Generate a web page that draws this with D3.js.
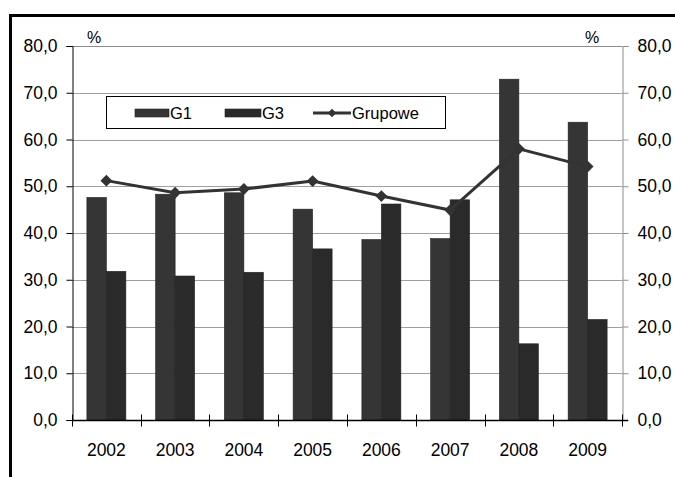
<!DOCTYPE html>
<html>
<head>
<meta charset="utf-8">
<script src="https://cdn.jsdelivr.net/npm/d3@7/dist/d3.min.js"></script>
<style>
  html, body { margin: 0; padding: 0; background: #fff; }
  svg { display: block; font-family: "Liberation Sans", Arial, sans-serif; }
</style>
</head>
<body>
<svg id="chart" width="675" height="477"></svg>
<script>
// Years on the category axis
const years = ["2002", "2003", "2004", "2005", "2006", "2007", "2008", "2009"];
// Bar series (%)
const g1 = [47.6, 48.3, 48.6, 45.1, 38.6, 38.8, 72.9, 63.7];
const g3 = [31.8, 30.8, 31.6, 36.6, 46.2, 47.1, 16.3, 21.5];
// Line series (%)
const grupowe = [51.2, 48.6, 49.4, 51.1, 47.9, 44.9, 58.0, 54.2];
// Value axis ticks
const yTicks = [0, 10, 20, 30, 40, 50, 60, 70, 80];

const seriesNames = ["G1", "G3"];
const barColors = { G1: "#353535", G3: "#2a2a2a" };
const lineColor = "#333333";
const axisFont = 17.5, legendFont = 16.5;

const svg = d3.select("#chart");
const plotLeft = 72, plotRight = 622, plotTop = 46, plotBottom = 420;

const x = d3.scaleBand().domain(years).range([plotLeft, plotRight])
  .paddingInner(0.433).paddingOuter(0.2165);
const xs = d3.scaleBand().domain(seriesNames).range([0, x.bandwidth()]);
const y = d3.scaleLinear().domain([0, 80]).range([plotBottom, plotTop]);
const fmt = v => d3.format(".1f")(v).replace(".", ",");

// outer frame
svg.append("rect").attr("x", 9).attr("y", 14).attr("width", 666).attr("height", 3).attr("fill", "#000");
svg.append("rect").attr("x", 9).attr("y", 14).attr("width", 3).attr("height", 463).attr("fill", "#000");

// gridlines
svg.append("g").selectAll("line").data(yTicks.filter(d => d > 0)).join("line")
  .attr("x1", plotLeft).attr("x2", plotRight)
  .attr("y1", d => Math.round(y(d)) + 0.5).attr("y2", d => Math.round(y(d)) + 0.5)
  .attr("stroke", d => d === 80 ? "#8c8c8c" : "#a0a0a0").attr("stroke-width", 1);

// bars
const groups = svg.append("g").selectAll("g").data(years).join("g")
  .attr("transform", d => `translate(${x(d)},0)`);
groups.selectAll("rect").data((d, i) => [
  { s: "G1", v: g1[i] }, { s: "G3", v: g3[i] }
]).join("rect")
  .attr("x", d => xs(d.s)).attr("width", xs.bandwidth())
  .attr("y", d => y(d.v)).attr("height", d => plotBottom - y(d.v))
  .attr("fill", d => barColors[d.s])
  .attr("stroke", "#222").attr("stroke-width", 0.6);

// left axis
const yAxisL = d3.axisLeft(y).tickValues(yTicks).tickFormat(fmt).tickSize(6).tickPadding(9);
const gL = svg.append("g").attr("transform", `translate(${plotLeft + 0.5},0)`).call(yAxisL);
gL.select(".domain").attr("stroke", "#000");
gL.selectAll(".tick line").attr("stroke", "#000");
gL.selectAll("text").attr("font-size", axisFont).attr("fill", "#000");

// right axis
const yAxisR = d3.axisRight(y).tickValues(yTicks).tickFormat(fmt).tickSize(6).tickPadding(9);
const gR = svg.append("g").attr("transform", `translate(${plotRight + 0.5},0)`).call(yAxisR);
gR.select(".domain").attr("stroke", "#8c8c8c");
gR.selectAll(".tick line").attr("stroke", "#8c8c8c");
gR.selectAll("text").attr("font-size", axisFont).attr("fill", "#000");

// category axis with ticks crossing the baseline
const gX = svg.append("g").attr("transform", `translate(0,${plotBottom + 0.5})`);
gX.append("line").attr("x1", plotLeft).attr("x2", plotRight + 6).attr("stroke", "#000").attr("stroke-width", 1.5);
const edges = years.map(d => x(d) - x.step() * x.paddingInner() / 2).concat([plotRight]);
gX.selectAll(".xt").data(edges).join("line").attr("class", "xt")
  .attr("x1", d => Math.round(d) + 0.5).attr("x2", d => Math.round(d) + 0.5)
  .attr("y1", -6).attr("y2", 6).attr("stroke", "#000");
gX.selectAll("text").data(years).join("text")
  .attr("x", d => x(d) + x.bandwidth() / 2).attr("y", 35.5)
  .attr("text-anchor", "middle").attr("font-size", axisFont).attr("fill", "#000")
  .text(d => d);

// unit labels
svg.append("text").attr("x", 94).attr("y", 43).attr("text-anchor", "middle")
  .attr("font-size", 16).text("%");
svg.append("text").attr("x", 592).attr("y", 43).attr("text-anchor", "middle")
  .attr("font-size", 16).text("%");

// line series
const cx = d => x(d) + x.bandwidth() / 2;
const line = d3.line().x((d, i) => cx(years[i])).y(d => y(d));
svg.append("path").datum(grupowe).attr("d", line)
  .attr("fill", "none").attr("stroke", lineColor).attr("stroke-width", 3);
const diamond = d3.symbol().type(d3.symbolDiamond2).size(90);
svg.append("g").selectAll("path").data(grupowe).join("path")
  .attr("d", diamond)
  .attr("transform", (d, i) => `translate(${cx(years[i])},${y(d)})`)
  .attr("fill", lineColor);

// legend
const lg = svg.append("g");
lg.append("rect").attr("x", 106.5).attr("y", 96.5).attr("width", 339).attr("height", 32)
  .attr("fill", "#fff").attr("stroke", "#000").attr("stroke-width", 1);
lg.append("rect").attr("x", 135).attr("y", 109).attr("width", 34).attr("height", 8)
  .attr("fill", barColors.G1).attr("stroke", "#222").attr("stroke-width", 0.6);
lg.append("text").attr("x", 170).attr("y", 119).attr("font-size", legendFont).text("G1");
lg.append("rect").attr("x", 225).attr("y", 109).attr("width", 36).attr("height", 8)
  .attr("fill", barColors.G3).attr("stroke", "#222").attr("stroke-width", 0.6);
lg.append("text").attr("x", 262).attr("y", 119).attr("font-size", legendFont).text("G3");
lg.append("line").attr("x1", 313).attr("x2", 351).attr("y1", 113).attr("y2", 113)
  .attr("stroke", lineColor).attr("stroke-width", 3);
lg.append("path").attr("d", d3.symbol().type(d3.symbolDiamond2).size(45))
  .attr("transform", "translate(332,113)").attr("fill", lineColor);
lg.append("text").attr("x", 352).attr("y", 119).attr("font-size", legendFont).text("Grupowe");
</script>
</body>
</html>
